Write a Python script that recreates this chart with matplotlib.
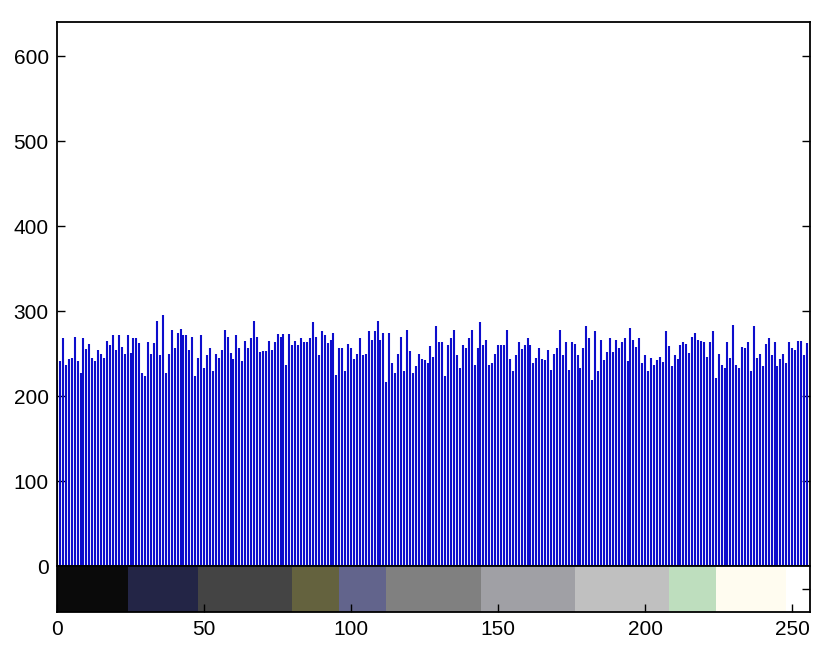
import numpy as np
import matplotlib
matplotlib.use('Agg')
from matplotlib import pyplot as plt
from matplotlib.colors import ListedColormap

# histogram counts per gray level 0..255
counts = [219, 241, 268, 237, 243, 245, 270, 241, 227, 268, 255, 261, 245, 241, 254, 249,
          245, 265, 260, 272, 254, 272, 258, 250, 272, 251, 268, 268, 262, 227, 223, 264,
          249, 262, 288, 248, 295,
          227, 249, 278, 256, 274, 279, 272, 272, 254, 270, 223, 245, 272, 233, 248, 257,
          229, 249, 245, 254, 278, 270, 251, 243, 272, 257, 241, 265, 256, 268, 288, 270,
          252, 253, 253, 265,
          254, 264, 273, 270, 273, 237, 273, 260, 265, 260, 268, 264, 264, 268, 287, 270,
          248, 276, 272, 262, 266, 274, 225, 257, 256, 229, 261, 257, 243, 249, 268, 248,
          249, 276, 266, 276, 288,
          266, 274, 217, 274, 239, 227, 249, 270, 229, 278, 253, 227, 235, 249, 244, 242,
          239, 259, 246, 282, 264, 264, 223, 260, 268, 278, 248, 233, 260, 257, 268, 278,
          237, 257, 287, 260,
          266, 237, 239, 249, 260, 260, 260, 278, 244, 229, 248, 264, 255, 260, 268, 260,
          239, 245, 257, 244, 242, 254, 231, 250, 257, 278, 248, 264, 231, 264, 261, 248,
          233, 256, 282, 268, 219,
          276, 229, 266, 242, 252, 268, 252, 266, 256, 264, 268, 241, 280, 266, 258, 268,
          239, 248, 229, 245, 237, 242, 246, 240, 276, 259, 235, 248, 243, 260, 264, 261,
          251, 270, 274, 266, 265,
          264, 246, 264, 276, 221, 249, 237, 233, 264, 245, 284, 237, 233, 258, 257, 264,
          229, 282, 245, 249, 235, 261, 268, 248, 264, 235, 244, 250, 239, 264, 256, 254,
          265, 265, 248, 262]
levels = np.arange(len(counts))

# colormap strip under the histogram: segment start levels and their colours
seg_starts = [0, 24, 48, 80, 96, 112, 144, 176, 208, 224, 248]
seg_colors = [(10, 10, 10), (35, 37, 70), (68, 68, 68), (100, 98, 62), (98, 100, 140),
              (128, 128, 128), (160, 160, 165), (192, 192, 192), (190, 222, 190),
              (255, 252, 240), (255, 255, 255)]

yticks = [0, 100, 200, 300, 400, 500, 600]
xticks = [0, 50, 100, 150, 200, 250]

plt.rcParams['font.family'] = ['Liberation Sans', 'DejaVu Sans']
plt.rcParams['font.size'] = 15

fig = plt.figure(figsize=(8.3, 6.57), dpi=100)
ax = fig.add_axes([0.0687, 0.1385, 0.907, 0.828])
cax = fig.add_axes([0.0687, 0.0685, 0.907, 0.070])

ax.vlines(levels, 0, counts, color=(0.05, 0.05, 0.8), linewidth=1.5)
ax.set_xlim(0, 256)
ax.set_ylim(0, 640)
ax.set_yticks(yticks)
ax.set_xticks([])
ax.tick_params(direction='in', length=6, width=1, right=True, pad=6)
for s in ax.spines.values():
    s.set_linewidth(1.3)

# build colour table
cols = []
bounds = seg_starts + [256]
for k in range(len(seg_starts)):
    for _ in range(bounds[k], bounds[k + 1]):
        cols.append(np.array(seg_colors[k]) / 255.0)
cmap = ListedColormap(cols)
cax.imshow(levels[np.newaxis, :], cmap=cmap, aspect='auto',
           extent=(0, 256, 0, 1), interpolation='nearest', vmin=0, vmax=255)
cax.set_xlim(0, 256)
cax.set_xticks(xticks)
cax.set_yticks([0.5])
cax.set_yticklabels([])
cax.tick_params(axis='x', direction='in', length=6, width=1, pad=6)
cax.tick_params(axis='y', direction='in', length=6, width=1, left=False, right=True)
for s in cax.spines.values():
    s.set_linewidth(1.3)

fig.savefig('out.png', dpi=100)
